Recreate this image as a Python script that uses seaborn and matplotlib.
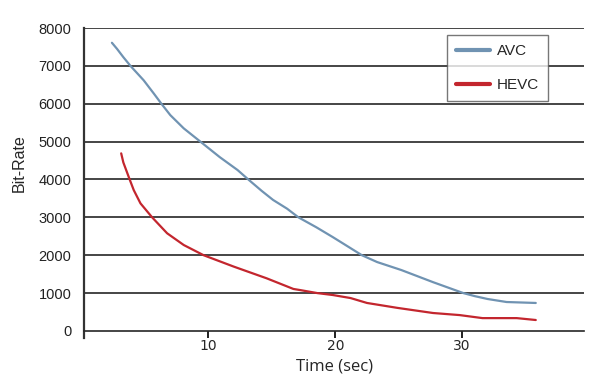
import numpy as np
import pandas as pd
import seaborn as sns
import matplotlib.pyplot as plt

# --- datos ---
avc_time = [2.4, 2.8, 3.3, 3.86, 4.9, 5.7, 6.3, 7.0, 8.06, 9.37, 10.9, 12.3, 13.15, 14.2, 15.1,
            16.2, 17.1, 18.5, 19.8, 21.0, 22.1, 23.3, 25.2, 27.7, 30.1, 31.0, 32.0, 33.5, 35.8]
avc_rate = [7610, 7450, 7230, 7000, 6620, 6270, 6000, 5700, 5350, 5000, 4590, 4250, 4000, 3700, 3460,
            3230, 3000, 2740, 2480, 2230, 2000, 1820, 1610, 1290, 1000, 920, 845, 765, 740]

hevc_time = [3.13, 3.3, 3.8, 4.12, 4.65, 5.57, 6.75, 8.06, 9.63, 12.0, 14.6, 16.7, 17.24, 18.6,
             19.8, 21.2, 22.5, 24.9, 27.7, 29.8, 31.6, 34.3, 35.8]
hevc_rate = [4690, 4450, 4000, 3720, 3370, 3000, 2580, 2270, 2000, 1700, 1390, 1110, 1080, 1000,
             950, 870, 740, 610, 475, 420, 340, 340, 290]

y_ticks = [0, 1000, 2000, 3000, 4000, 5000, 6000, 7000, 8000]
x_ticks = [10, 20, 30]

AVC_COLOR = '#7093b2'
HEVC_COLOR = '#c3262e'

sns.set_style('white')
narrow = ['Liberation Sans Narrow', 'Liberation Sans', 'DejaVu Sans']

fig = plt.figure(figsize=(6, 3.86), dpi=100)
ax = fig.add_axes([84 / 600, 48 / 386, 500 / 600, 310 / 386])

sns.lineplot(x=avc_time, y=avc_rate, ax=ax, color=AVC_COLOR, lw=1.6, label='AVC', sort=False)
sns.lineplot(x=hevc_time, y=hevc_rate, ax=ax, color=HEVC_COLOR, lw=1.6, label='HEVC', sort=False)

# líneas horizontales de la cuadrícula
for v in y_ticks[1:]:
    ax.axhline(v, color='#262626', lw=1.2, zorder=0)

ax.set_xlim(0.2, 39.6)
ax.set_ylim(-185, 8000)
ax.set_yticks(y_ticks)
ax.set_yticklabels([str(v) for v in y_ticks], family=narrow, fontsize=10.5, color='#222222')
ax.set_xticks(x_ticks)
ax.set_xticklabels([str(v) for v in x_ticks], family=['Open Sans', 'DejaVu Sans'], fontsize=11, color='#333333')
ax.tick_params(axis='y', left=False, length=0, pad=9)
ax.tick_params(axis='x', bottom=True, direction='out', length=5, width=1.4, color='#262626', pad=1)

# marcas del eje x bajo la línea del cero
ax.plot(x_ticks, [0] * len(x_ticks), linestyle='none', marker=3, ms=5, mew=1.4,
        color='#262626', clip_on=False, zorder=3)

# eje x sobre la línea del cero
ax.spines['bottom'].set_position(('data', 0))
ax.spines['bottom'].set_color('#262626')
ax.spines['bottom'].set_linewidth(1.2)
for s in ['top', 'right']:
    ax.spines[s].set_visible(False)
ax.spines['left'].set_color('#333333')
ax.spines['left'].set_linewidth(1.6)

ax.set_xlabel('Time (sec)', family=['Open Sans', 'DejaVu Sans'], fontsize=12, labelpad=4)
fig.text(19 / 600, 1 - 163 / 386, 'Bit-Rate', rotation=90, ha='center', va='center',
         family=['Liberation Sans', 'DejaVu Sans'], fontsize=11.5)
ax.set_ylabel('')

leg = ax.legend(loc='upper left', bbox_to_anchor=(447 / 600, 1 - 35 / 386),
                bbox_transform=fig.transFigure, fancybox=False, frameon=True,
                prop={'family': narrow, 'size': 11}, handlelength=2.2,
                labelspacing=1.3, borderpad=0.6, handletextpad=0.45, borderaxespad=0)
leg.get_frame().set_edgecolor('#555555')
leg.get_frame().set_linewidth(1.0)
for line in leg.get_lines():
    line.set_linewidth(3)

plt.savefig('out.png', dpi=100)
plt.close()
